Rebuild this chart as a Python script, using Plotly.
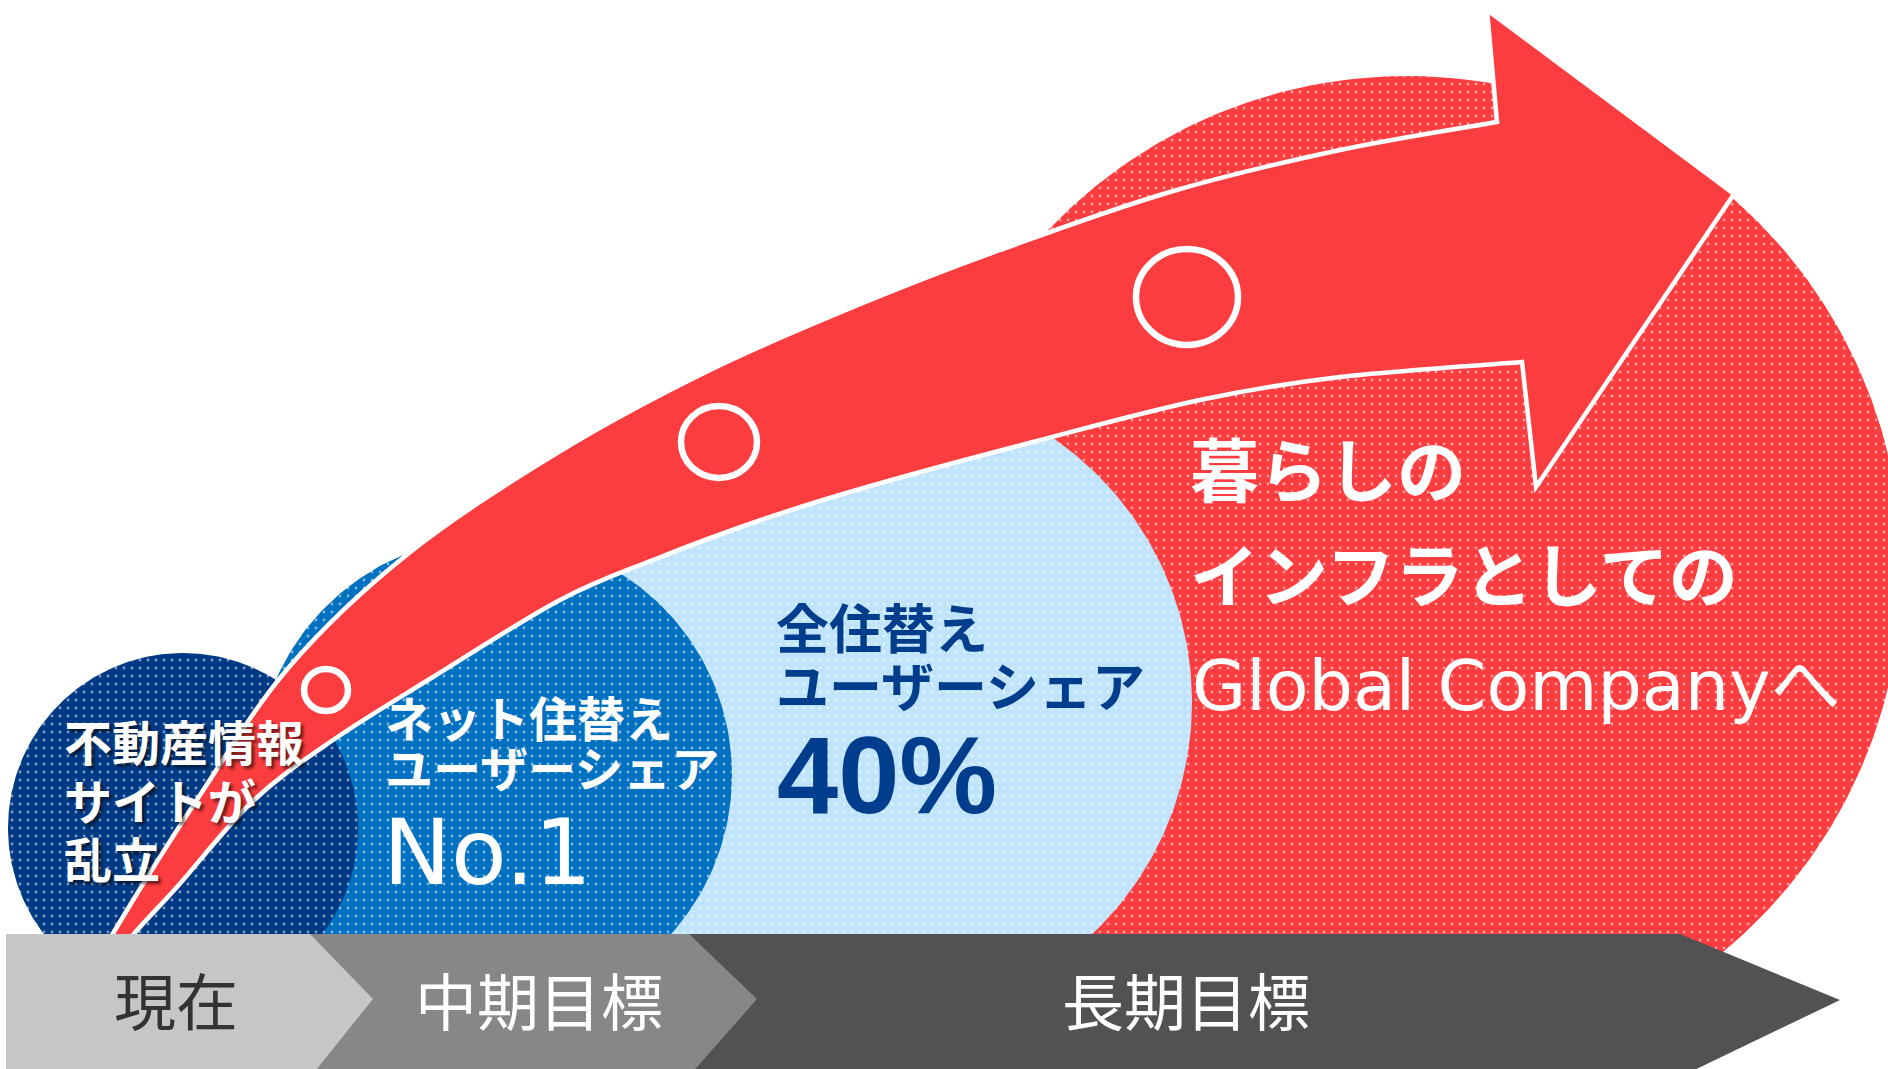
import numpy as np
import plotly.graph_objects as go

W, H = 1888, 1069

# ---------------- content ----------------
stage_labels = ["現在", "中期目標", "長期目標"]
stage_label_x = [176, 539, 1186]
stage_fill = ["#C6C6C6", "#878787", "#525252"]
stage_text_color = ["#333333", "#FFFFFF", "#FFFFFF"]

# circles, back to front
circle_cx = [1407, 872, 494, 183]
circle_cy = [571, 702, 775, 828]
circle_r = [495, 320, 238, 175]
circle_fill = ["#FC3D3F", "#C0E4FC", "#0070C0", "#003A85"]

now_lines = ["不動産情報", "サイトが", "乱立"]
no1_lines = ["ネット住替え", "ユーザーシェア"]
no1_value = "No.1"
share_lines = ["全住替え", "ユーザーシェア"]
share_value = "40%"
long_lines = ["暮らしの", "インフラとしての"]
long_latin = "Global Companyへ"

# milestone rings on the arrow
ring_cx = [326, 719, 1187]
ring_cy = [690, 442, 297]
ring_rx = [22, 38, 51]
ring_ry = [21, 36, 48]

# arrow outline anchors
arrow_upper = [(97, 968), (112, 935), (200, 795), (290, 666), (409, 553), (557, 453),
               (710, 370), (863, 303), (1000, 250), (1170, 192), (1340, 150), (1497, 122)]
arrow_head = [(1487, 10), (1734, 194), (1536, 487)]
arrow_lower = [(1522, 362), (1340, 377), (1200, 400), (1033, 442), (867, 487), (761, 520),
               (653, 560), (560, 600), (433, 677), (333, 740), (253, 801), (177, 887),
               (133, 935), (110, 968)]

RED = "#FC3D3F"
NAVY_TEXT = "#003D8C"
CJK = "Noto Sans CJK JP"


def spline(pts):
    s = ""
    n = len(pts)
    for i in range(n - 1):
        p0 = pts[i - 1] if i > 0 else pts[i]
        p1, p2 = pts[i], pts[i + 1]
        p3 = pts[i + 2] if i + 2 < n else pts[i + 1]
        c1 = (p1[0] + (p2[0] - p0[0]) / 6, p1[1] + (p2[1] - p0[1]) / 6)
        c2 = (p2[0] - (p3[0] - p1[0]) / 6, p2[1] - (p3[1] - p1[1]) / 6)
        s += f" C {c1[0]:.1f},{c1[1]:.1f} {c2[0]:.1f},{c2[1]:.1f} {p2[0]:.1f},{p2[1]:.1f}"
    return s


fig = go.Figure()

# dotted circles
t = np.linspace(0, 2 * np.pi, 361)
for cx, cy, r, col in zip(circle_cx, circle_cy, circle_r, circle_fill):
    fig.add_trace(go.Scatter(
        x=cx + r * np.cos(t), y=cy + r * np.sin(t), mode="lines",
        line=dict(width=0, color=col), fill="toself", fillcolor=col,
        fillpattern=dict(shape=".", bgcolor=col, fgcolor="#FFFFFF", size=8, solidity=0.1),
        hoverinfo="skip", showlegend=False))

shapes = []
# arrow
p = f"M {arrow_upper[0][0]},{arrow_upper[0][1]}" + spline(arrow_upper)
for (x, y) in arrow_head:
    p += f" L {x},{y}"
p += f" L {arrow_lower[0][0]},{arrow_lower[0][1]}" + spline(arrow_lower) + " Z"
shapes.append(dict(type="path", path=p, xref="x", yref="y", layer="above",
                   fillcolor=RED, line=dict(color="#FFFFFF", width=4.5)))
# rings
for cx, cy, rx, ry in zip(ring_cx, ring_cy, ring_rx, ring_ry):
    shapes.append(dict(type="circle", xref="x", yref="y", layer="above",
                       x0=cx - rx, x1=cx + rx, y0=cy - ry, y1=cy + ry,
                       fillcolor="rgba(0,0,0,0)", line=dict(color="#FFFFFF", width=6.5)))
# stage chevrons (back to front)
bars = [
    "M 600,934 L 1680,934 L 1840,1000 L 1684,1075 L 600,1075 Z",
    "M 300,934 L 689,934 L 757,999 L 690,1075 L 300,1075 Z",
    "M 6,934 L 310,934 L 373,999 L 312,1075 L 6,1075 Z",
]
for path, col in zip(bars, stage_fill[::-1]):
    shapes.append(dict(type="path", path=path, xref="x", yref="y", layer="above",
                       fillcolor=col, line=dict(width=0)))

ann = []


def text(s, x, y, size, color, family=CJK, weight=700, shadow="none", xanchor="left"):
    ann.append(dict(text=s, x=x, y=y, xref="x", yref="y", showarrow=False,
                    xanchor=xanchor, yanchor="middle",
                    font=dict(family=family, size=size, color=color, weight=weight,
                              shadow=shadow)))


for s, y in zip(now_lines, [740, 799, 857]):
    text(s, 62, y, 48, "#FFFFFF", shadow="3px 3px 3px rgba(0,0,0,0.55)")
for s, y in zip(no1_lines, [716, 766]):
    text(s, 383, y, 48, "#FFFFFF")
text(no1_value, 381, 852, 91, "#FFFFFF", family="DejaVu Sans", weight=400)
for s, y in zip(share_lines, [626, 684]):
    text(s, 774, y, 53, NAVY_TEXT)
text(share_value, 775, 774, 110, NAVY_TEXT, family="Liberation Sans", weight=700)
for s, y in zip(long_lines, [467, 572]):
    text(s, 1188, y, 69, "#FFFFFF")
text(long_latin, 1190, 686, 70, "#FFFFFF", family="DejaVu Sans, Noto Sans CJK JP", weight=400)

for s, x, c in zip(stage_labels, stage_label_x, stage_text_color):
    text(s, x, 999, 62, c, weight=400, xanchor="center")

fig.update_layout(
    width=W, height=H, margin=dict(l=0, r=0, t=0, b=0),
    paper_bgcolor="#FFFFFF", plot_bgcolor="#FFFFFF",
    xaxis=dict(range=[0, W], visible=False, fixedrange=True),
    yaxis=dict(range=[H, 0], visible=False, fixedrange=True),
    shapes=shapes, annotations=ann, showlegend=False,
)

fig.write_html("out.html", config={"displayModeBar": False, "staticPlot": True},
               post_script="document.body.style.margin='0';document.body.style.overflow='hidden';")
